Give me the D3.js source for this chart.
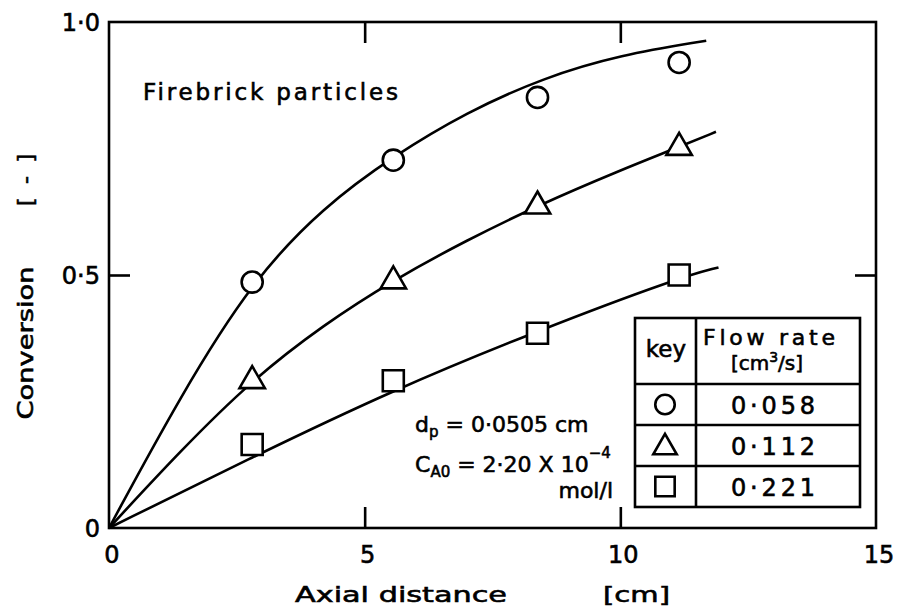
<!DOCTYPE html>
<html>
<head>
<meta charset="utf-8">
<script src="https://cdn.jsdelivr.net/npm/d3@7"></script>
<style>
  body { margin: 0; background: #fff; }
  text { font-family: "DejaVu Sans", sans-serif; fill: #000; stroke: #000; stroke-width: 0.6px; }
</style>
</head>
<body>
<div id="chart"></div>
<script>
// measured points (axial distance cm, conversion)
const xPts = [2.8, 5.56, 8.38, 11.15];
const circleY = [0.486, 0.727, 0.851, 0.920];
const triangleY = [0.291, 0.488, 0.636, 0.752];
const squareY = [0.165, 0.291, 0.385, 0.500];

// hand drawn fit lines
const circleCurve = [[0,0],[1.4,0.262],[2.81,0.49],[4.2,0.635],[5.56,0.735],[7.0,0.822],[8.5,0.89],[10.0,0.935],[11.68,0.963]];
const triangleCurve = [[0,0],[1.4,0.153],[2.8,0.293],[4.2,0.402],[5.56,0.49],[7.0,0.569],[8.38,0.637],[10.0,0.707],[11.15,0.753],[11.87,0.783]];
const squareCurve = [[0,0],[2.8,0.14],[5.56,0.273],[8.38,0.39],[11.15,0.495],[11.92,0.515]];

const xTicks = [0, 5, 10, 15];
const yTicks = [0, 0.5, 1.0];
const yTickLabels = ["0", "0·5", "1·0"];
const legendKeys = ["circle", "triangle", "square"];
const flowRates = ["0·058", "0·112", "0·221"];

let width = 900, height = 610;
let svg = d3.select("#chart").append("svg")
  .attr("width", width).attr("height", height);

let x = d3.scaleLinear().domain([0, 15]).range([109, 876]);
let y = d3.scaleLinear().domain([0, 1]).range([528, 22]);

const lw = 2.6;
const tickLen = 21;

// frame
svg.append("rect")
  .attr("x", x(0)).attr("y", y(1))
  .attr("width", x(15) - x(0)).attr("height", y(0) - y(1))
  .attr("fill", "none").attr("stroke", "#000").attr("stroke-width", lw);

// inward ticks on all four sides
let bottomAx = svg.append("g").attr("transform", `translate(0,${y(0)})`)
  .call(d3.axisBottom(x).tickValues([5, 10]).tickSizeInner(-tickLen).tickSizeOuter(0).tickFormat(""));
let topAx = svg.append("g").attr("transform", `translate(0,${y(1)})`)
  .call(d3.axisTop(x).tickValues([5, 10]).tickSizeInner(-tickLen).tickSizeOuter(0).tickFormat(""));
let leftAx = svg.append("g").attr("transform", `translate(${x(0)},0)`)
  .call(d3.axisLeft(y).tickValues([0.5]).tickSizeInner(-tickLen).tickSizeOuter(0).tickFormat(""));
let rightAx = svg.append("g").attr("transform", `translate(${x(15)},0)`)
  .call(d3.axisRight(y).tickValues([0.5]).tickSizeInner(-tickLen).tickSizeOuter(0).tickFormat(""));
[bottomAx, topAx, leftAx, rightAx].forEach(a => {
  a.select(".domain").remove();
  a.selectAll("line").attr("stroke", "#000").attr("stroke-width", lw);
});

// tick labels
svg.selectAll(".xlab").data(xTicks).enter().append("text")
  .attr("x", d => x(d) + 3).attr("y", 563)
  .attr("text-anchor", "middle").style("font-size", "24px")
  .text(d => d);
svg.selectAll(".ylab").data(yTicks).enter().append("text")
  .attr("x", 100).attr("y", d => y(d) + 9)
  .attr("text-anchor", "end").style("font-size", "24px")
  .text((d, i) => yTickLabels[i]);

// axis titles
svg.append("text").attr("x", 295).attr("y", 602)
  .attr("textLength", 212).attr("lengthAdjust", "spacingAndGlyphs")
  .style("font-size", "22px").text("Axial distance");
svg.append("text").attr("x", 603).attr("y", 602)
  .attr("textLength", 67).attr("lengthAdjust", "spacingAndGlyphs")
  .style("font-size", "22px").text("[cm]");
svg.append("text").attr("transform", "translate(33,343) rotate(-90)")
  .attr("text-anchor", "middle")
  .attr("textLength", 153).attr("lengthAdjust", "spacingAndGlyphs")
  .style("font-size", "22px").text("Conversion");
svg.append("text").attr("transform", "translate(33,180) rotate(-90)")
  .attr("text-anchor", "middle")
  .attr("textLength", 52).attr("lengthAdjust", "spacing")
  .style("font-size", "22px").text("[ - ]");

svg.append("text").attr("x", 143).attr("y", 100)
  .attr("textLength", 255).attr("lengthAdjust", "spacing")
  .style("font-size", "23px").text("Firebrick particles");

// curves
let line = d3.line().x(d => x(d[0])).y(d => y(d[1])).curve(d3.curveBasis);
[circleCurve, triangleCurve, squareCurve].forEach(c => {
  svg.append("path").datum(c).attr("d", line)
    .attr("fill", "none").attr("stroke", "#000").attr("stroke-width", lw);
});

// markers
const symbolType = {circle: d3.symbolCircle, triangle: d3.symbolTriangle, square: d3.symbolSquare};
const symbolSize = {circle: 350, triangle: 280, square: 441};
function marker(sel, kind, scale) {
  sel.attr("d", d3.symbol().type(symbolType[kind]).size(symbolSize[kind] * (scale || 1)))
    .attr("fill", "#fff").attr("stroke", "#000").attr("stroke-width", lw);
}
[["circle", circleY], ["triangle", triangleY], ["square", squareY]].forEach(([kind, vals]) => {
  svg.selectAll(".m-" + kind).data(vals).enter().append("path")
    .attr("transform", (d, i) => `translate(${x(xPts[i])},${y(d)})`)
    .call(marker, kind);
});

// annotation
let ann = svg.append("g");
let t1 = ann.append("text").attr("x", 415).attr("y", 432).style("font-size", "22px");
t1.append("tspan").text("d");
t1.append("tspan").attr("dy", 5).style("font-size", "15px").text("p");
t1.append("tspan").attr("dy", -5).text(" = 0·0505 cm");
let t2 = ann.append("text").attr("x", 415).attr("y", 472).style("font-size", "22px");
t2.append("tspan").text("C");
t2.append("tspan").attr("dy", 5).style("font-size", "15px").text("A0");
t2.append("tspan").attr("dy", -5).text(" = 2·20 X 10");
t2.append("tspan").attr("dy", -14).style("font-size", "15px").text("−4");
ann.append("text").attr("x", 613).attr("y", 498).attr("text-anchor", "end")
  .style("font-size", "22px").text("mol/l");

// key table
const tb = {x0: 635, x1: 860, xm: 696, y0: 318, yh: 384, rowH: 41};
let leg = svg.append("g");
leg.append("rect").attr("x", tb.x0).attr("y", tb.y0)
  .attr("width", tb.x1 - tb.x0).attr("height", tb.yh + 3 * tb.rowH - tb.y0)
  .attr("fill", "#fff").attr("stroke", "#000").attr("stroke-width", lw);
leg.append("line").attr("x1", tb.xm).attr("x2", tb.xm).attr("y1", tb.y0).attr("y2", tb.yh + 3 * tb.rowH)
  .attr("stroke", "#000").attr("stroke-width", lw);
leg.selectAll(".rowline").data([0, 1, 2]).enter().append("line")
  .attr("x1", tb.x0).attr("x2", tb.x1)
  .attr("y1", d => tb.yh + d * tb.rowH).attr("y2", d => tb.yh + d * tb.rowH)
  .attr("stroke", "#000").attr("stroke-width", lw);
leg.append("text").attr("x", 666).attr("y", 357).attr("text-anchor", "middle")
  .style("font-size", "23px").text("key");
leg.append("text").attr("x", 769).attr("y", 345).attr("text-anchor", "middle")
  .attr("textLength", 132).attr("lengthAdjust", "spacing")
  .style("font-size", "22px").text("Flow rate");
let u = leg.append("text").attr("x", 767).attr("y", 370).attr("text-anchor", "middle")
  .style("font-size", "20px");
u.append("tspan").text("[cm");
u.append("tspan").attr("dy", -8).style("font-size", "14px").text("3");
u.append("tspan").attr("dy", 8).text("/s]");
legendKeys.forEach((k, i) => {
  let cy = tb.yh + (i + 0.5) * tb.rowH;
  leg.append("path").attr("transform", `translate(665,${cy + (k === "triangle" ? 2 : 0)})`)
    .call(marker, k, 0.85);
  leg.append("text").attr("x", 773).attr("y", cy + 9).attr("text-anchor", "middle")
    .attr("textLength", 84).attr("lengthAdjust", "spacing")
    .style("font-size", "24px").text(flowRates[i]);
});
</script>
</body>
</html>
